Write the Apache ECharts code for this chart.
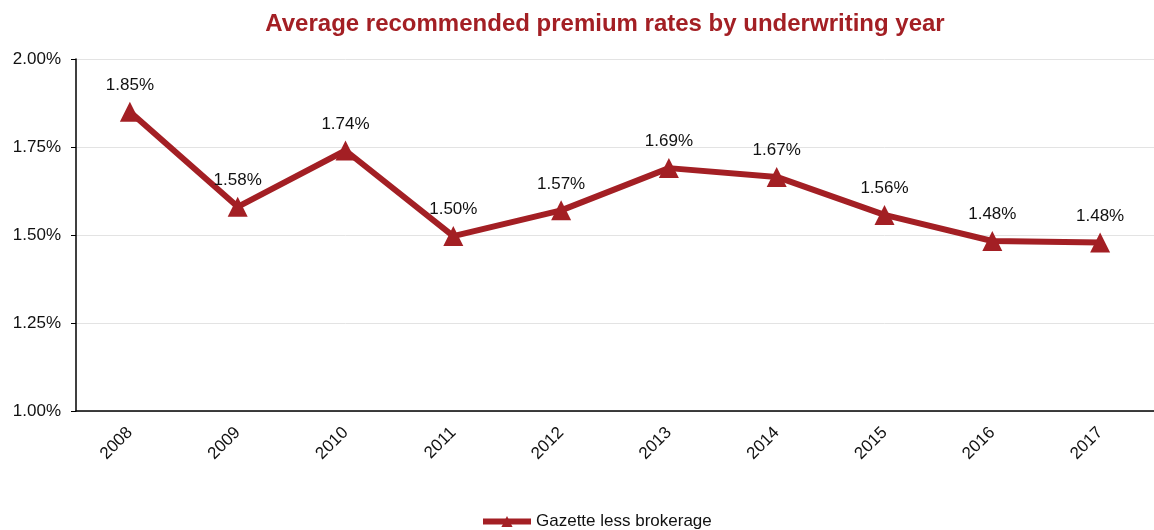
<!DOCTYPE html>
<html>
<head>
<meta charset="utf-8">
<script src="https://cdn.jsdelivr.net/npm/echarts@6/dist/echarts.min.js"></script>
<style>
  html, body { margin: 0; padding: 0; background: #fff; }
  #chart { width: 1154px; height: 530px; }
</style>
</head>
<body>
<div id="chart"></div>
<script>
// underwriting years
var years = ["2008", "2009", "2010", "2011", "2012", "2013", "2014", "2015", "2016", "2017"];
// average rates, in %
var gazetteLessBrokerage = [1.85, 1.58, 1.74, 1.497, 1.57, 1.69, 1.665, 1.557, 1.483, 1.479];

var red = "#A31F24";

var chart = echarts.init(document.getElementById("chart"));
var option = {
  backgroundColor: "#fff",
  textStyle: { fontFamily: "Liberation Sans, Arial, sans-serif" },
  title: {
    text: "Average recommended premium rates by underwriting year",
    left: 600,
    textAlign: "center",
    top: 7,
    textStyle: { color: red, fontSize: 24, fontWeight: "bold", fontFamily: "Liberation Sans, Arial, sans-serif" }
  },
  legend: {
    bottom: 0,
    left: 480,
    padding: 0,
    itemWidth: 48,
    itemHeight: 14,
    itemGap: 2,
    lineStyle: { width: 6 },
    textStyle: { color: "#111", fontSize: 17, padding: [0, 0, 0, 0] },
    data: ["Gazette less brokerage"]
  },
  grid: { left: 76, top: 59, width: 1087, height: 352 },
  xAxis: {
    type: "category",
    data: years,
    axisLine: { lineStyle: { color: "#000", width: 1.5 } },
    axisTick: { length: 5, lineStyle: { color: "#000" } },
    axisLabel: { rotate: 45, color: "#111", fontSize: 17, margin: 19 }
  },
  yAxis: {
    type: "value",
    min: 1.0,
    max: 2.0,
    interval: 0.25,
    axisLine: { show: true, lineStyle: { color: "#000", width: 1.5 } },
    axisTick: { show: true, length: 5, lineStyle: { color: "#000" } },
    axisLabel: {
      color: "#111",
      fontSize: 17,
      margin: 15,
      formatter: function (v) { return v.toFixed(2) + "%"; }
    },
    splitLine: { lineStyle: { color: "#e3e3e3" } }
  },
  series: [
    {
      name: "Gazette less brokerage",
      type: "line",
      data: gazetteLessBrokerage,
      symbol: "triangle",
      symbolSize: [20, 20],
      itemStyle: { color: red },
      lineStyle: { color: red, width: 6 },
      label: {
        show: true,
        position: "top",
        distance: 8,
        color: "#111",
        fontSize: 17,
        formatter: function (p) { return p.value.toFixed(2) + "%"; }
      }
    }
  ]
};
chart.setOption(option);
</script>
</body>
</html>
